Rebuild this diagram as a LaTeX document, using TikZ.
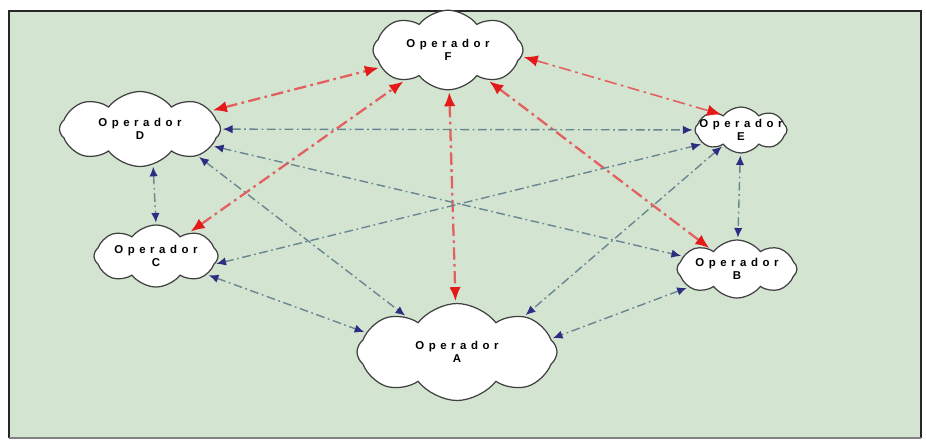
\documentclass[tikz,border=0pt]{standalone}
\usepackage{fontspec}
\setmainfont{Liberation Sans}
\usetikzlibrary{shapes.symbols,arrows.meta}
\definecolor{bggreen}{RGB}{211,229,209}
\definecolor{linkgray}{RGB}{105,135,145}
\definecolor{headblue}{RGB}{45,45,130}
\definecolor{linkred}{RGB}{228,95,95}
\definecolor{headred}{RGB}{228,25,25}
\tikzset{
  bluetip/.tip={Latex[length=5.5pt,width=4.8pt,color=headblue]},
  redtip/.tip={Latex[length=8pt,width=6.5pt,color=headred]},
  opcloud/.style={cloud, cloud puffs=8, cloud puff arc=105, draw=black!75, line width=0.7pt,
    fill=white, align=center, inner sep=0pt,
    font=\fontsize{6.5}{7.5}\selectfont\bfseries\addfontfeature{LetterSpace=40}},
  bluelink/.style={bluetip-bluetip, draw=linkgray, line width=0.8pt,
    dash pattern=on 5pt off 2pt on 1pt off 2pt, shorten <=1pt, shorten >=1pt},
  redlink/.style={redtip-redtip, draw=linkred, line width=1.3pt,
    dash pattern=on 7pt off 2.5pt on 1.5pt off 2.5pt, shorten <=1pt, shorten >=1pt}
}
\begin{document}
\begin{tikzpicture}[x=0.02cm,y=-0.02cm]
\useasboundingbox (0,0) rectangle (926,441);
\fill[white] (0,0) rectangle (926,441);
\fill[bggreen] (9,11) rectangle (921,438);
\draw[black!85,line width=1.5pt] (9,438) -- (9,11) -- (921,11) -- (921,438);
\draw[black!50,line width=1pt] (9,438) -- (921,438);
% operators
\node[opcloud, aspect=1.9, minimum width=3cm, minimum height=1.56cm] (F) at (448,50) {Operador\\F};
\node[opcloud, aspect=2.1, minimum width=3.22cm, minimum height=1.5cm] (D) at (140,129) {Operador\\D};
\node[opcloud, aspect=2, inner xsep=-12pt, inner ysep=-3pt, minimum width=1.84cm, minimum height=0.92cm] (E) at (741,130) {Operador\\E};
\node[opcloud, aspect=2, inner xsep=-6pt, inner ysep=-2pt, minimum width=2.48cm, minimum height=1.24cm] (C) at (156,256) {Operador\\C};
\node[opcloud, aspect=2, inner xsep=-6pt, inner ysep=-2pt, minimum width=2.4cm, minimum height=1.16cm] (B) at (737,269) {Operador\\B};
\node[opcloud, aspect=2, minimum width=4cm, minimum height=1.94cm] (A) at (457,352) {Operador\\A};
% links to F
\draw[redlink] (D) -- (F);
\draw[redlink] (C) -- (F);
\draw[redlink] (F) -- (A);
\draw[redlink] (F) -- (B);
\draw[redlink, line width=0.9pt] (F.-5) -- (E.140);
% other links
\draw[bluelink] (D) -- (E);
\draw[bluelink] (D) -- (B);
\draw[bluelink] (D.-25) -- (A.145);
\draw[bluelink] (D.-70) -- (C.north);
\draw[bluelink] (C.-8) -- (E.200);
\draw[bluelink] (C) -- (A.168);
\draw[bluelink] (E) -- (A.28);
\draw[bluelink] (E) -- (B);
\draw[bluelink] (B) -- (A.8);
\end{tikzpicture}
\end{document}
